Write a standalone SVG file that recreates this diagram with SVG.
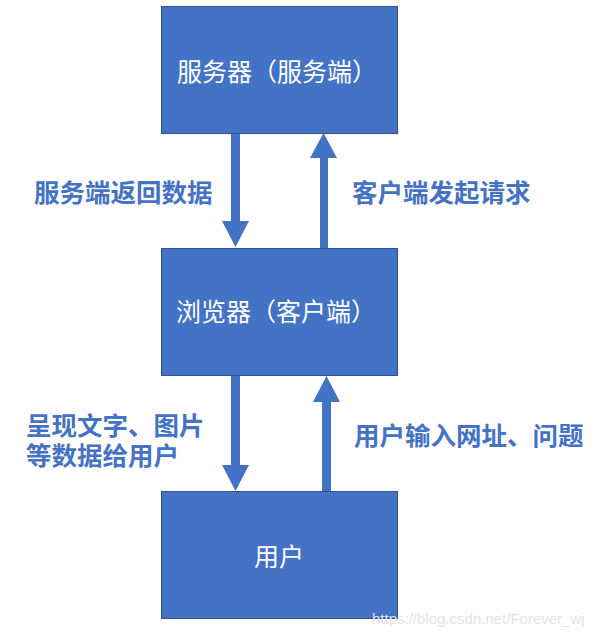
<svg xmlns="http://www.w3.org/2000/svg" width="605" height="637" viewBox="0 0 605 637">
<style>
.box{fill:#4472C4;stroke:#2F528F;stroke-width:1}
.bt{fill:#ffffff;font-family:"Noto Sans CJK SC","Liberation Sans",sans-serif;font-size:25px}
.lb{fill:#4472C4;font-family:"Noto Sans CJK SC","Liberation Sans",sans-serif;font-size:25.5px;font-weight:bold}
.ar{fill:#4472C4}
.wm{fill:#e4e4e4;font-family:"Liberation Sans",Arial,sans-serif;font-size:15px}
</style>
<rect width="605" height="637" fill="#ffffff"/>
<g id="connectors">
<polygon class="ar" points="231,133 240,133 240,221 249,221 235.5,247 222,221 231,221"/>
<polygon class="ar" points="320,248 328,248 328,158 337,158 323.5,133 310,158 320,158"/>
<polygon class="ar" points="231,375 240,375 240,465 249,465 235.5,491 222,465 231,465"/>
<polygon class="ar" points="322,491 331,491 331,402 340,402 326.5,376 313,402 322,402"/>
</g>
<g id="server">
<rect class="box" x="161.5" y="6.5" width="236" height="127"/>
<text class="bt" x="177" y="81">服务器（服务端）</text>
</g>
<g id="browser">
<rect class="box" x="161.5" y="248.5" width="236" height="127"/>
<text class="bt" x="176" y="320.5">浏览器（客户端）</text>
</g>
<g id="user">
<rect class="box" x="161.5" y="491.5" width="236" height="127"/>
<text class="bt" x="279" y="566" text-anchor="middle">用户</text>
</g>
<g id="labels">
<text class="lb" x="34" y="201.5">服务端返回数据</text>
<text class="lb" x="352" y="201.5">客户端发起请求</text>
<text class="lb"><tspan x="26" y="434.5">呈现文字、图片</tspan><tspan x="26" y="464.5">等数据给用户</tspan></text>
<text class="lb" x="354" y="444.5">用户输入网址、问题</text>
</g>
<text class="wm" x="372" y="624">https://blog.csdn.net/Forever_wj</text>
</svg>
